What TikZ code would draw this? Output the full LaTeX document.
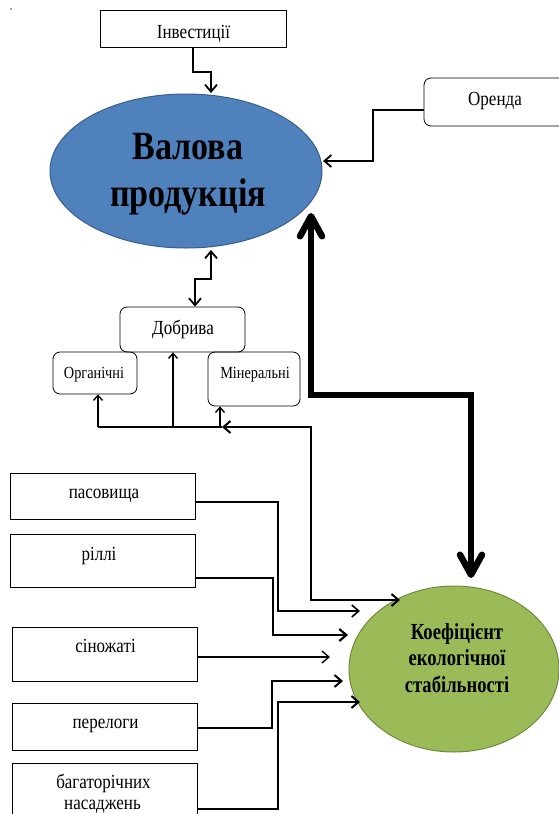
\documentclass[tikz,border=0pt]{standalone}
\usepackage{fontspec}
\setmainfont{Liberation Serif}
\newfontfamily\lab[FakeStretch=0.85]{Liberation Serif}
\newfontfamily\labs[FakeStretch=0.84]{Liberation Serif}
\newfontfamily\labbig[FakeStretch=0.85]{Liberation Serif}
\newfontfamily\labgr[FakeStretch=0.81]{Liberation Serif}
\usetikzlibrary{arrows.meta,shapes.geometric}
\definecolor{vblue}{HTML}{4F81BD}
\definecolor{vblueD}{HTML}{385D8A}
\definecolor{vgreen}{HTML}{9BBB59}
\definecolor{vgreenD}{HTML}{71893F}
\tikzset{
  box/.style={draw, line width=0.8pt, inner sep=0pt},
  rbox/.style={box, rounded corners=7pt},
  txt/.style={font=\lab\fontsize{20}{24}\selectfont, anchor=base, inner sep=0pt},
  stxt/.style={font=\labs\fontsize{17}{20}\selectfont, anchor=base, inner sep=0pt},
  arr/.style={line width=1.8pt, -{Straight Barb[length=7pt,width=12pt]}},
  darr/.style={line width=1.8pt, {Straight Barb[length=7pt,width=12pt]}-{Straight Barb[length=7pt,width=12pt]}},
  thickarr/.style={line width=6.5pt, {Straight Barb[length=20pt,width=22pt,round]}-{Straight Barb[length=20pt,width=22pt,round]}},
  busline/.style={line width=1.2pt},
  arrS/.style={line width=1.4pt, -{Straight Barb[length=5pt,width=9pt]}}
}
\begin{document}
\begin{tikzpicture}[x=1pt,y=-1pt]
\useasboundingbox (0,0) rectangle (558,814);
\fill[gray!70] (9.5,7.5) rectangle (11.5,9.5);

% ellipses
\node[ellipse, draw=vblueD, fill=vblue, line width=1pt, minimum width=272pt, minimum height=154pt, inner sep=0pt] (val) at (186,171) {};
\node[font=\labbig\bfseries\fontsize{40}{47}\selectfont, align=center, inner sep=0pt] (valt) at (188,174) {Валова\\продукція};
\node[ellipse, draw=vgreenD, fill=vgreen, line width=1pt, minimum width=210pt, minimum height=166pt, inner sep=0pt] (koef) at (454,669) {};
\node[font=\labgr\bfseries\fontsize{23}{26.5}\selectfont, align=center, inner sep=0pt] (koeft) at (457,658) {Коефіцієнт\\екологічної\\стабільності};

% boxes
\node[box, minimum width=186pt, minimum height=37pt] (inv) at (193,28.5) {};
\node[txt] (invt) at (193.5,38) {Інвестиції};
\node[rbox, minimum width=142pt, minimum height=48pt] (oren) at (495,102) {};
\node[txt] (orent) at (495,105) {Оренда};
\node[rbox, minimum width=125pt, minimum height=45pt] (dob) at (182.5,329.5) {};
\node[txt] (dobt) at (183,334) {Добрива};
\node[rbox, minimum width=84pt, minimum height=42pt] (org) at (95,373) {};
\node[stxt] (orgt) at (94,378) {Органічні};
\node[rbox, minimum width=92pt, minimum height=54pt] (min) at (254,379) {};
\node[stxt] (mint) at (255,378) {Мінеральні};

\node[box, minimum width=185pt, minimum height=46pt] (pas) at (102.5,496) {};
\node[txt] (past) at (104,498) {пасовища};
\node[box, minimum width=185pt, minimum height=53pt] (ril) at (102.5,560.5) {};
\node[txt] (rilt) at (99,560) {ріллі};
\node[box, minimum width=185pt, minimum height=54pt] (sin) at (104.5,654) {};
\node[txt] (sint) at (105.5,652) {сіножаті};
\node[box, minimum width=185pt, minimum height=47pt] (per) at (104.5,726.5) {};
\node[txt] (pert) at (105.5,728) {перелоги};
\node[box, minimum width=185pt, minimum height=70pt] (bag) at (104.5,798) {};
\node[txt] (bagt1) at (103.5,788) {багаторічних};
\node[txt] (bagt2) at (102.5,809) {насаджень};

% coordinates
\coordinate (invA) at (211,72);
\coordinate (invT) at (211,93);
\coordinate (orS) at (424,110);
\coordinate (orA) at (373,110);
\coordinate (orB) at (373,161);
\coordinate (orT) at (323,161);
\coordinate (vdA) at (211,250);
\coordinate (vdB) at (211,279);
\coordinate (vdC) at (195,279);
\coordinate (thA) at (311,213);
\coordinate (thB) at (311,395);
\coordinate (thC) at (471,395);
\coordinate (thD) at (471,578);
\coordinate (busL) at (98,427);
\coordinate (busM) at (173,427);
\coordinate (busN) at (220,427);
\coordinate (busR) at (222,427);
\coordinate (mA) at (311,427);
\coordinate (mB) at (311,600);
\coordinate (mT) at (400,600);

% connectors
\draw[arr] (inv.south) |- (invA) -- (invT);
\draw[arr] (orS) -- (orA) -- (orB) -- (orT);
\draw[darr] (vdA) -- (vdB) -- (vdC) -- (vdC |- dob.north);
\draw[thickarr] (thA) -- (thB) -- (thC) -- (thD);

\draw[busline] (busL) -- (busR);
\draw[arrS] (busL) -- (busL |- org.south);
\draw[arrS] (busM) -- (busM |- dob.south);
\draw[arrS] (busN) -- (busN |- min.south);
\draw[darr, line width=2pt] (busR) -- (mA) -- (mB) -- (mT);

\draw[arr, line width=1.6pt] (pas.east |- 0,502) -- (278,502) -- (278,611) -- (360,611);
\draw[arr, line width=2.2pt] (ril.east |- 0,578) -- (273,578) -- (273,635) -- (348,635);
\draw[arr, line width=1.4pt] (sin.east |- 0,657) -- (330,657);
\draw[arr, line width=2pt] (per.east |- 0,728) -- (272,728) -- (272,681) -- (343,681);
\draw[arr, line width=2pt] (bag.east |- 0,809) -- (278,809) -- (278,702) -- (360,702);
\end{tikzpicture}
\end{document}
